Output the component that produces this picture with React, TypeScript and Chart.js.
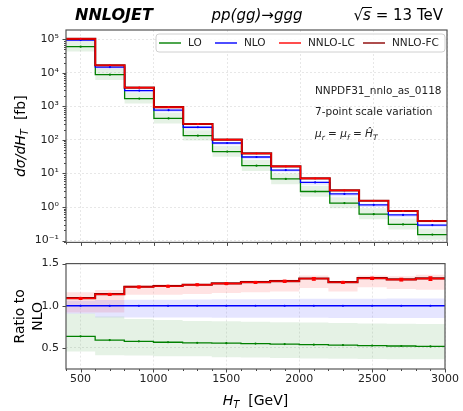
import React, { useEffect, useRef } from 'react';
import { Chart, registerables } from 'chart.js';

Chart.register(...registerables);

// ---------------- data ----------------
const BIN_EDGES = [400, 600, 800, 1000, 1200, 1400, 1600, 1800, 2000, 2200, 2400, 2600, 2800, 3000];
const X_TICKS = [500, 1000, 1500, 2000, 2500, 3000];
const Y_TICKS_LOG = [0.1, 1, 10, 100, 1000, 10000, 100000];
const Y_TICKS_RATIO = [0.5, 1.0, 1.5];

// NLO differential cross section [fb]
const NLO = [95000, 14900, 2970, 773, 239, 81, 31, 12.6, 5.4, 2.45, 1.16, 0.58, 0.29];
// ratios to NLO
const LO_RATIO = [0.638, 0.593, 0.578, 0.567, 0.56, 0.556, 0.552, 0.546, 0.538, 0.534, 0.528, 0.523, 0.518];
const NNLO_LC_RATIO = [1.087, 1.135, 1.222, 1.232, 1.248, 1.262, 1.277, 1.29, 1.32, 1.278, 1.325, 1.31, 1.322];
const NNLO_FC_RATIO = [1.09, 1.138, 1.225, 1.235, 1.25, 1.265, 1.28, 1.292, 1.323, 1.28, 1.328, 1.313, 1.325];
const NNLO_ERR = [0.008, 0.008, 0.008, 0.008, 0.008, 0.01, 0.01, 0.01, 0.015, 0.01, 0.012, 0.015, 0.02];
// scale-variation bands (ratio to NLO)
const LO_BAND_DOWN = [0.458, 0.414, 0.41, 0.4, 0.4, 0.39, 0.385, 0.38, 0.376, 0.373, 0.37, 0.367, 0.365];
const LO_BAND_UP = [0.907, 0.873, 0.843, 0.83, 0.82, 0.815, 0.81, 0.805, 0.8, 0.795, 0.79, 0.787, 0.784];
const NLO_BAND_DOWN = [0.905, 0.862, 0.86, 0.86, 0.86, 0.858, 0.858, 0.857, 0.857, 0.856, 0.856, 0.855, 0.855];
const NLO_BAND_UP = [1.06, 1.067, 1.07, 1.072, 1.074, 1.076, 1.078, 1.08, 1.082, 1.083, 1.084, 1.085, 1.086];
const NNLO_BAND_DOWN = [0.92, 0.92, 1.13, 1.13, 1.14, 1.15, 1.16, 1.17, 1.21, 1.17, 1.22, 1.2, 1.19];
const NNLO_BAND_UP = [1.16, 1.187, 1.245, 1.255, 1.265, 1.28, 1.3, 1.31, 1.36, 1.29, 1.36, 1.35, 1.367];

// ---------------- helpers ----------------
const FONT = "'DejaVu Sans', sans-serif";
const GREEN = '#008000';
const BLUE = '#0000ff';
const RED = '#ff0000';
const DARKRED = '#8b0000';

function stepData(vals: number[]) {
  const pts = vals.map((v, i) => ({ x: BIN_EDGES[i], y: v }));
  pts.push({ x: BIN_EDGES[BIN_EDGES.length - 1], y: vals[vals.length - 1] });
  return pts;
}
const times = (a: number[], b: number[]) => a.map((v, i) => v * b[i]);
const ones = NLO.map(() => 1);

const SUP: Record<string, string> = { '-': '⁻', '0': '⁰', '1': '¹', '2': '²', '3': '³', '4': '⁴', '5': '⁵', '6': '⁶', '7': '⁷', '8': '⁸', '9': '⁹' };
const sup = (s: string) => s.split('').map((c) => SUP[c] || c).join('');

type Run = { t: string; font: string; dy?: number };
function drawRuns(ctx: CanvasRenderingContext2D, runs: Run[], x: number, y: number, align: 'left' | 'center' | 'right') {
  let w = 0;
  runs.forEach((r) => { ctx.font = r.font; w += ctx.measureText(r.t).width; });
  let cx = align === 'left' ? x : align === 'center' ? x - w / 2 : x - w;
  ctx.textAlign = 'left';
  ctx.textBaseline = 'alphabetic';
  runs.forEach((r) => {
    ctx.font = r.font;
    ctx.fillText(r.t, cx, y + (r.dy || 0));
    cx += ctx.measureText(r.t).width;
  });
  return w;
}

function bandPair(low: number[], high: number[], color: string) {
  return [
    { data: stepData(low), borderWidth: 0, borderColor: 'transparent', pointRadius: 0, fill: false, stepped: true, order: 10 },
    { data: stepData(high), borderWidth: 0, borderColor: 'transparent', backgroundColor: color, pointRadius: 0, fill: '-1', stepped: true, order: 10 },
  ];
}

function lineDs(vals: number[], color: string, width: number, order: number) {
  return { data: stepData(vals), borderColor: color, borderWidth: width, pointRadius: 0, fill: false, stepped: true, order };
}

function buildDatasets(scale: number[]) {
  return [
    ...bandPair(times(LO_BAND_DOWN, scale), times(LO_BAND_UP, scale), 'rgba(0,128,0,0.10)'),
    ...bandPair(times(NLO_BAND_DOWN, scale), times(NLO_BAND_UP, scale), 'rgba(0,0,255,0.10)'),
    ...bandPair(times(NNLO_BAND_DOWN, scale), times(NNLO_BAND_UP, scale), 'rgba(255,0,0,0.11)'),
    lineDs(times(LO_RATIO, scale), GREEN, 1.3, 4),
    lineDs(times(ones, scale), BLUE, 1.3, 3),
    lineDs(times(NNLO_FC_RATIO, scale), DARKRED, 2.1, 2),
    lineDs(times(NNLO_LC_RATIO, scale), RED, 1.1, 1),
  ];
}

function drawFrameAndTicks(chart: any, logY: boolean) {
  const ctx: CanvasRenderingContext2D = chart.ctx;
  const a = chart.chartArea;
  const xs = chart.scales.x;
  const ys = chart.scales.y;
  ctx.save();
  ctx.strokeStyle = '#333';
  ctx.lineWidth = 0.9;
  for (let v = 400; v <= 3000; v += 100) {
    const px = Math.round(xs.getPixelForValue(v)) + 0.5;
    const major = v % 500 === 0;
    ctx.beginPath();
    ctx.moveTo(px, a.bottom);
    ctx.lineTo(px, a.bottom + (major ? 3.5 : 2));
    ctx.stroke();
  }
  if (logY) {
    for (let e = -2; e <= 5; e++) {
      for (let k = 1; k <= 9; k++) {
        const v = k * Math.pow(10, e);
        if (v < ys.min || v > ys.max) continue;
        const py = Math.round(ys.getPixelForValue(v)) + 0.5;
        ctx.beginPath();
        ctx.moveTo(a.left, py);
        ctx.lineTo(a.left - (k === 1 ? 3.5 : 2), py);
        ctx.stroke();
      }
    }
  } else {
    Y_TICKS_RATIO.forEach((v) => {
      const py = Math.round(ys.getPixelForValue(v)) + 0.5;
      ctx.beginPath();
      ctx.moveTo(a.left, py);
      ctx.lineTo(a.left - 3.5, py);
      ctx.stroke();
    });
  }
  ctx.strokeStyle = '#555';
  ctx.lineWidth = 1.2;
  ctx.strokeRect(a.left, a.top, a.right - a.left, a.bottom - a.top);
  ctx.restore();
}

function drawCenters(chart: any, series: { vals: number[]; color: string; r: number }[]) {
  const ctx: CanvasRenderingContext2D = chart.ctx;
  const xs = chart.scales.x;
  const ys = chart.scales.y;
  ctx.save();
  series.forEach((s) => {
    ctx.fillStyle = s.color;
    s.vals.forEach((v, i) => {
      const c = (BIN_EDGES[i] + BIN_EDGES[i + 1]) / 2;
      const px = xs.getPixelForValue(c);
      const py = ys.getPixelForValue(v);
      ctx.beginPath();
      ctx.arc(px, py, s.r, 0, Math.PI * 2);
      ctx.fill();
    });
  });
  ctx.restore();
}

const upperPlugin = {
  id: 'upperDeco',
  afterDraw(chart: any) {
    const ctx: CanvasRenderingContext2D = chart.ctx;
    const a = chart.chartArea;
    drawCenters(chart, [
      { vals: times(LO_RATIO, NLO), color: GREEN, r: 1.1 },
      { vals: NLO, color: BLUE, r: 1.1 },
      { vals: times(NNLO_LC_RATIO, NLO), color: RED, r: 1.1 },
    ]);
    drawFrameAndTicks(chart, true);
    ctx.save();
    const lx0 = a.left + 90, lx1 = a.right - 2, ly0 = a.top + 4, ly1 = a.top + 22;
    ctx.fillStyle = 'rgba(255,255,255,0.85)';
    ctx.strokeStyle = '#d0d0d0';
    ctx.lineWidth = 1;
    ctx.beginPath();
    (ctx as any).roundRect(lx0, ly0, lx1 - lx0, ly1 - ly0, 3);
    ctx.fill();
    ctx.stroke();
    const ly = (ly0 + ly1) / 2;
    const items = [
      { t: 'LO', c: GREEN, x: 159 },
      { t: 'NLO', c: BLUE, x: 215 },
      { t: 'NNLO-LC', c: RED, x: 279 },
      { t: 'NNLO-FC', c: DARKRED, x: 363 },
    ];
    ctx.font = `10.5px ${FONT}`;
    ctx.textBaseline = 'middle';
    ctx.textAlign = 'left';
    items.forEach((it) => {
      ctx.strokeStyle = it.c;
      ctx.lineWidth = 1.4;
      ctx.beginPath();
      ctx.moveTo(it.x, ly);
      ctx.lineTo(it.x + 22, ly);
      ctx.stroke();
      ctx.fillStyle = '#222';
      ctx.fillText(it.t, it.x + 29, ly + 0.5);
    });
    ctx.fillStyle = '#222';
    ctx.font = `10.5px ${FONT}`;
    ctx.fillText('NNPDF31_nnlo_as_0118', 315, 91);
    ctx.fillText('7-point scale variation', 315, 112);
    const it = `italic 10.5px ${FONT}`;
    const nm = `10.5px ${FONT}`;
    const sb = `italic 7.5px ${FONT}`;
    drawRuns(ctx, [
      { t: 'μ', font: it }, { t: 'r', font: sb, dy: 2.5 },
      { t: ' = ', font: nm },
      { t: 'μ', font: it }, { t: 'f', font: sb, dy: 2.5 },
      { t: ' = ', font: nm },
      { t: 'Ĥ', font: it }, { t: 'T', font: sb, dy: 2.5 },
    ], 315, 137, 'left');
    ctx.fillStyle = '#000';
    drawRuns(ctx, [{ t: 'NNLOJET', font: `italic bold 16px ${FONT}` }], 75, 20, 'left');
    drawRuns(ctx, [{ t: 'pp(gg)→ggg', font: `italic 15px ${FONT}` }], 257, 20, 'center');
    const f15 = `15px ${FONT}`;
    const i15 = `italic 15px ${FONT}`;
    ctx.font = f15;
    const wRoot = ctx.measureText('√').width;
    ctx.font = i15;
    const wS = ctx.measureText('s').width;
    ctx.font = f15;
    const wRest = ctx.measureText(' = 13 TeV').width;
    const x0 = 443 - (wRoot + wS + wRest);
    drawRuns(ctx, [{ t: '√', font: f15 }, { t: 's', font: i15 }, { t: ' = 13 TeV', font: f15 }], x0, 20, 'left');
    ctx.strokeStyle = '#000';
    ctx.lineWidth = 1;
    ctx.beginPath();
    ctx.moveTo(x0 + wRoot - 1, 7.5);
    ctx.lineTo(x0 + wRoot + wS + 1, 7.5);
    ctx.stroke();
    ctx.save();
    ctx.translate(20, (a.top + a.bottom) / 2);
    ctx.rotate(-Math.PI / 2);
    ctx.fillStyle = '#000';
    drawRuns(ctx, [
      { t: 'dσ/dH', font: `italic 14px ${FONT}` },
      { t: 'T', font: `italic 10px ${FONT}`, dy: 3 },
      { t: '  [fb]', font: `14px ${FONT}` },
    ], 0, 5, 'center');
    ctx.restore();
    ctx.restore();
  },
};

const lowerPlugin = {
  id: 'lowerDeco',
  afterDraw(chart: any) {
    const ctx: CanvasRenderingContext2D = chart.ctx;
    const a = chart.chartArea;
    const xs = chart.scales.x;
    const ys = chart.scales.y;
    drawCenters(chart, [
      { vals: LO_RATIO, color: GREEN, r: 1.1 },
      { vals: ones, color: BLUE, r: 1.1 },
    ]);
    ctx.save();
    ctx.strokeStyle = RED;
    ctx.fillStyle = RED;
    ctx.lineWidth = 1.2;
    NNLO_LC_RATIO.forEach((v, i) => {
      const c = (BIN_EDGES[i] + BIN_EDGES[i + 1]) / 2;
      const px = xs.getPixelForValue(c);
      const y1 = ys.getPixelForValue(v - NNLO_ERR[i]);
      const y2 = ys.getPixelForValue(v + NNLO_ERR[i]);
      ctx.beginPath();
      ctx.moveTo(px, y1); ctx.lineTo(px, y2);
      ctx.moveTo(px - 2, y1); ctx.lineTo(px + 2, y1);
      ctx.moveTo(px - 2, y2); ctx.lineTo(px + 2, y2);
      ctx.stroke();
      ctx.fillRect(px - 1.5, ys.getPixelForValue(v) - 1.5, 3, 3);
    });
    ctx.restore();
    drawFrameAndTicks(chart, false);
    ctx.save();
    ctx.fillStyle = '#000';
    ctx.save();
    ctx.translate(0, (a.top + a.bottom) / 2);
    ctx.rotate(-Math.PI / 2);
    ctx.font = `14px ${FONT}`;
    ctx.textAlign = 'center';
    ctx.textBaseline = 'middle';
    ctx.fillText('Ratio to', 0, 20);
    ctx.fillText('NLO', 0, 38);
    ctx.restore();
    drawRuns(ctx, [
      { t: 'H', font: `italic 14px ${FONT}` },
      { t: 'T', font: `italic 10px ${FONT}`, dy: 3 },
      { t: '  [GeV]', font: `14px ${FONT}` },
    ], (a.left + a.right) / 2, 405 - 250, 'center');
    ctx.restore();
  },
};

const gridColor = 'rgba(0,0,0,0.12)';

function App() {
  const upRef = useRef<HTMLCanvasElement>(null);
  const loRef = useRef<HTMLCanvasElement>(null);

  useEffect(() => {
    const up = new Chart(upRef.current as HTMLCanvasElement, {
      type: 'line',
      data: { datasets: buildDatasets(NLO) as any },
      options: {
        animation: false,
        responsive: false,
        devicePixelRatio: 1,
        layout: { padding: { left: 0, right: 16, top: 30, bottom: 6 } },
        plugins: { legend: { display: false }, tooltip: { enabled: false } },
        scales: {
          x: {
            type: 'linear', min: 400, max: 3000,
            afterBuildTicks: (s: any) => { s.ticks = X_TICKS.map((v) => ({ value: v })); },
            afterFit: (s: any) => { s.height = 0; },
            ticks: { display: false },
            grid: { color: gridColor, lineWidth: 0.8, drawTicks: false },
            border: { display: false, dash: [2, 2] },
          },
          y: {
            type: 'logarithmic', min: 0.088, max: 1.9e5,
            afterBuildTicks: (s: any) => { s.ticks = Y_TICKS_LOG.map((v) => ({ value: v })); },
            afterFit: (s: any) => { s.width = 66; },
            ticks: {
              autoSkip: false,
              padding: 7,
              color: '#222',
              font: { family: FONT, size: 11 },
              callback: (v: any) => '10' + sup(String(Math.round(Math.log10(Number(v))))),
            },
            grid: { color: gridColor, lineWidth: 0.8, drawTicks: false },
            border: { display: false, dash: [2, 2] },
          },
        },
      },
      plugins: [upperPlugin],
    });

    const lo = new Chart(loRef.current as HTMLCanvasElement, {
      type: 'line',
      data: { datasets: buildDatasets(ones) as any },
      options: {
        animation: false,
        responsive: false,
        devicePixelRatio: 1,
        layout: { padding: { left: 0, right: 16, top: 9, bottom: 0 } },
        plugins: { legend: { display: false }, tooltip: { enabled: false } },
        scales: {
          x: {
            type: 'linear', min: 400, max: 3000,
            afterBuildTicks: (s: any) => { s.ticks = X_TICKS.map((v) => ({ value: v })); },
            afterFit: (s: any) => { s.height = 42; },
            ticks: {
              autoSkip: false,
              maxRotation: 0,
              padding: 4,
              color: '#222',
              font: { family: FONT, size: 11 },
              callback: (v: any) => String(v),
            },
            grid: { color: gridColor, lineWidth: 0.8, drawTicks: false },
            border: { display: false, dash: [2, 2] },
          },
          y: {
            type: 'linear', min: 0.25, max: 1.5,
            afterBuildTicks: (s: any) => { s.ticks = Y_TICKS_RATIO.map((v) => ({ value: v })); },
            afterFit: (s: any) => { s.width = 66; },
            ticks: {
              autoSkip: false,
              padding: 7,
              color: '#222',
              font: { family: FONT, size: 11 },
              callback: (v: any) => Number(v).toFixed(1),
            },
            grid: { color: gridColor, lineWidth: 0.8, drawTicks: false },
            border: { display: false, dash: [2, 2] },
          },
        },
      },
      plugins: [lowerPlugin],
    });

    return () => {
      up.destroy();
      lo.destroy();
    };
  }, []);

  return (
    <div style={{ position: 'fixed', left: 0, top: 0, width: 463, height: 411, background: '#fff' }}>
      <canvas ref={upRef} width={463} height={256} style={{ position: 'absolute', left: 0, top: 0, width: 463, height: 256 }} />
      <canvas ref={loRef} width={463} height={161} style={{ position: 'absolute', left: 0, top: 250, width: 463, height: 161 }} />
    </div>
  );
}

export default App;
